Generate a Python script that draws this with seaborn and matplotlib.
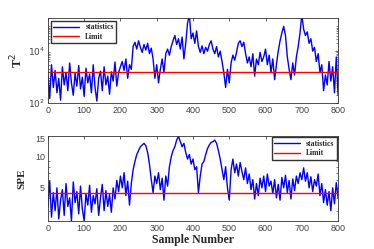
import numpy as np
import pandas as pd
import seaborn as sns
import matplotlib.pyplot as plt
from matplotlib.ticker import FixedLocator, NullFormatter, ScalarFormatter

# samples every 5 samples
samples = list(range(0, 805, 5))

t2_values = [
    1200, 150, 3000, 400, 1800, 250, 900, 130, 2500, 500,
    1500, 300, 3500, 600, 200, 1400, 450, 2800, 350, 1000,
    180, 2200, 600, 1300, 250, 3000, 400, 120, 900, 1700,
    300, 2500, 500, 1100, 220, 1600, 700, 3800, 450, 1500,
    2500, 4000, 1800, 5000, 900, 3000, 2000, 15000, 22000, 12000,
    25000, 14000, 9000, 18000, 11000, 20000, 8000, 13000, 5000, 900,
    3000, 600, 2000, 5000, 1500, 8000, 12000, 7000, 15000, 25000,
    40000, 18000, 30000, 12000, 35000, 5000, 20000, 120000, 250000, 30000,
    50000, 20000, 60000, 15000, 9000, 16000, 8000, 14000, 10000, 18000,
    25000, 12000, 8000, 15000, 6000, 10000, 4000, 1500, 400, 2000,
    600, 3500, 7000, 4500, 9000, 20000, 25000, 15000, 22000, 8000,
    3500, 6000, 2500, 8000, 1100, 5000, 3000, 9000, 4000, 6000,
    12000, 3000, 7000, 1500, 5000, 800, 3000, 10000, 25000, 50000,
    90000, 40000, 6000, 2000, 800, 3500, 1200, 6000, 15000, 50000,
    250000, 70000, 40000, 55000, 20000, 30000, 10000, 14000, 4000, 8000,
    1500, 3000, 300, 1200, 500, 4000, 700, 2500, 250, 6000,
    200,
]

spe_values = [
    3.2, 5.8, 2.6, 4.5, 3.0, 5.0, 2.5, 3.8, 4.8, 2.7,
    5.5, 3.3, 4.0, 2.4, 5.7, 3.6, 4.6, 2.8, 5.2, 3.1,
    2.4, 4.4, 3.4, 5.3, 2.9, 4.2, 3.5, 4.9, 2.7, 4.0,
    5.4, 3.0, 4.7, 3.3, 4.3, 2.9, 5.0, 3.9, 5.9, 4.6,
    6.5, 5.0, 7.0, 4.2, 5.8, 3.4, 5.5, 7.5, 9.0, 10.5,
    11.5, 12.5, 13.0, 13.5, 12.8, 11.0, 8.5, 6.0, 4.5, 6.5,
    5.5, 7.0, 4.8, 6.2, 3.8, 6.5, 5.2, 8.0, 10.0, 11.5,
    12.5, 14.5, 15.8, 14.0, 12.5, 13.5, 11.0, 9.5, 10.5, 8.5,
    9.5, 7.5, 8.0, 4.5, 6.5, 8.5, 9.0, 10.5, 12.0, 13.0,
    13.8, 14.0, 14.5, 13.5, 11.5, 9.5, 7.5, 6.0, 8.0, 5.0,
    3.8, 7.5, 9.5, 7.0, 8.5, 6.5, 8.8, 7.2, 6.0, 7.8,
    5.5, 6.8, 4.8, 6.0, 3.9, 5.5, 4.2, 6.2, 5.0, 6.5,
    4.6, 6.8, 5.2, 5.8, 4.4, 6.0, 4.0, 5.4, 3.8, 6.3,
    5.0, 6.6, 4.5, 5.9, 3.9, 6.1, 4.7, 6.5, 5.5, 7.0,
    6.0, 7.8, 5.8, 7.0, 5.0, 6.4, 4.6, 6.0, 5.2, 6.8,
    4.2, 5.5, 3.6, 4.8, 3.4, 4.6, 3.0, 5.0, 3.5, 5.6,
    4.0,
]

t2_limit = 1550
spe_limit = 4.5

df = pd.DataFrame({'sample': samples, 'T2': t2_values, 'SPE': spe_values})

sns.set_style('white')
plt.rcParams['font.family'] = ['Liberation Sans', 'DejaVu Sans']

fig = plt.figure(figsize=(3.74, 2.49), dpi=100)
ax1 = fig.add_axes([0.128, 0.586, 0.776, 0.342])
ax2 = fig.add_axes([0.128, 0.112, 0.776, 0.342])

serif_bold = dict(family=['Liberation Serif', 'DejaVu Serif'], weight='bold')

for ax, col, lim in [(ax1, 'T2', t2_limit), (ax2, 'SPE', spe_limit)]:
    sns.lineplot(data=df, x='sample', y=col, ax=ax, color='blue', lw=1.0,
                 label='statistics')
    ax.axhline(lim, color='red', lw=1.0, label='Limit')
    ax.set_yscale('log')
    ax.set_xlim(0, 800)
    ax.set_xticks(range(0, 801, 100))
    ax.tick_params(direction='in', top=True, right=True, labelsize=6.5,
                   labelcolor='#444444', length=2.5, width=0.5, pad=2)
    ax.tick_params(which='minor', direction='in', right=True, left=True,
                   length=1.5, width=0.4)
    for s in ax.spines.values():
        s.set_linewidth(0.6)
        s.set_color('#333333')
    ax.set_xlabel('')

ax1.set_ylim(100, 1.9e5)
ax1.set_yticks([1e2, 1e4])
ax1.set_yticklabels(['$10^2$', '$10^4$'])
ax1.set_ylabel('T$^2$', fontsize=9, labelpad=2, **serif_bold)

ax2.set_ylim(2.38, 15.9)
ax2.yaxis.set_major_locator(FixedLocator([5, 10, 15]))
ax2.yaxis.set_major_formatter(ScalarFormatter())
ax2.yaxis.set_minor_formatter(NullFormatter())
ax2.set_ylabel('SPE', fontsize=8, labelpad=6, **serif_bold)
ax2.set_xlabel('Sample Number', fontsize=8.5, labelpad=1, **serif_bold)

leg_font = dict(family=['Liberation Serif'], weight='bold', size=5.5)
ax1.legend(loc='upper left', prop=leg_font, handlelength=3.4, fancybox=False,
           edgecolor='#333333', framealpha=1, borderpad=0.3, labelspacing=0.2,
           borderaxespad=0.4)
ax2.legend(loc='upper right', prop=leg_font, handlelength=3.4, fancybox=False,
           edgecolor='#333333', framealpha=1, borderpad=0.3, labelspacing=0.2,
           borderaxespad=0.2)

fig.savefig('out.png', dpi=100)
